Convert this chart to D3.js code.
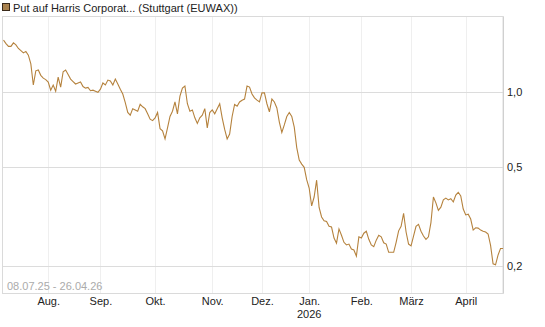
<!DOCTYPE html>
<html>
<head>
<meta charset="utf-8">
<script src="https://cdn.jsdelivr.net/npm/d3@7"></script>
<style>
  body { margin: 0; background: #fff; }
  svg { display: block; font-family: "Liberation Sans", Arial, sans-serif; }
</style>
</head>
<body>
<div class="chartHolder"></div>
<script>
// trading days of the period (Stuttgart), closed days left out
let startDay = "2025-07-08",
  endDay = "2026-04-24",
  closedDays = ["2025-12-24", "2025-12-25", "2025-12-26", "2025-12-31", "2026-01-01", "2026-04-03", "2026-04-06"];

// closing prices, one per trading day
let prices = [
  1.62, 1.57, 1.53, 1.53, 1.58, 1.55, 1.50, 1.47, 1.44, 1.46,
  1.41, 1.30, 1.07, 1.22, 1.23, 1.17, 1.14, 1.125, 1.10, 1.02,
  1.07, 1.01, 1.15, 1.05, 1.21, 1.23, 1.18, 1.13, 1.105, 1.08,
  1.09, 1.10, 1.055, 1.04, 1.047, 1.015, 1.02, 1.01, 1.00, 1.03,
  1.09, 1.07, 1.12, 1.11, 1.07, 1.13, 1.08, 1.03, 0.985, 0.91,
  0.83, 0.81, 0.86, 0.85, 0.84, 0.895, 0.875, 0.86, 0.82, 0.78,
  0.77, 0.79, 0.83, 0.715, 0.70, 0.65, 0.72, 0.80, 0.84, 0.915,
  0.82, 0.965, 1.04, 1.06, 0.90, 0.84, 0.85, 0.79, 0.75, 0.79,
  0.81, 0.86, 0.72, 0.83, 0.85, 0.82, 0.86, 0.90, 0.79, 0.71,
  0.65, 0.68, 0.80, 0.895, 0.88, 0.915, 0.93, 0.94, 1.06, 1.05,
  0.985, 0.95, 0.93, 0.915, 0.995, 0.995, 0.90, 0.835, 0.94, 0.915,
  0.865, 0.76, 0.69, 0.74, 0.80, 0.83, 0.80, 0.725, 0.60, 0.535,
  0.515, 0.50, 0.446, 0.413, 0.35, 0.38, 0.444, 0.345, 0.316, 0.305,
  0.303, 0.29, 0.288, 0.26, 0.248, 0.283, 0.267, 0.25, 0.244, 0.246,
  0.235, 0.233, 0.22, 0.263, 0.26, 0.272, 0.277, 0.257, 0.244, 0.24,
  0.255, 0.267, 0.263, 0.249, 0.246, 0.228, 0.228, 0.228, 0.25, 0.278,
  0.29, 0.327, 0.275, 0.246, 0.242, 0.265, 0.29, 0.295, 0.277, 0.265,
  0.257, 0.263, 0.30, 0.38, 0.36, 0.336, 0.346, 0.37, 0.376, 0.37,
  0.374, 0.363, 0.387, 0.397, 0.384, 0.34, 0.322, 0.324, 0.31, 0.28,
  0.286, 0.285, 0.28, 0.277, 0.275, 0.27, 0.243, 0.205, 0.203, 0.222,
  0.236, 0.236
];

let monthLabels = ["Aug.", "Sep.", "Okt.", "Nov.", "Dez.", "Jan.", "Feb.", "März", "April"];
let yearLabel = "2026";
let yTicks = [0.2, 0.5, 1.0];
let title = "Put auf Harris Corporat... (Stuttgart (EUWAX))";
let rangeLabel = "08.07.25 - 26.04.26";

let width = 545,
  height = 327,
  plotLeft = 3,
  plotRight = 503,
  plotTop = 16,
  plotBottom = 293,
  lineColor = "#b5823d";

let svgChart = d3
  .select(".chartHolder")
  .append("svg")
  .attr("width", width)
  .attr("height", height);

// build list of trading days
let parse = d3.timeParse("%Y-%m-%d"),
  fmt = d3.timeFormat("%Y-%m-%d");
let days = d3.timeDay
  .range(parse(startDay), d3.timeDay.offset(parse(endDay), 1))
  .filter((d) => d.getDay() !== 0 && d.getDay() !== 6 && closedDays.indexOf(fmt(d)) < 0);

// first trading day of every month -> tick position
let monthStarts = [];
days.forEach((d, i) => {
  if (i > 0 && d.getMonth() !== days[i - 1].getMonth()) monthStarts.push(i);
});

let xScale = d3
  .scaleLinear()
  .domain([0, prices.length - 1])
  .range([plotLeft + 0.5, plotRight]);

let yScale = d3
  .scaleLog()
  .domain([0.1565, 2.025])
  .range([plotBottom, plotTop]);

// vertical grid
svgChart
  .append("g")
  .attr("transform", "translate(0," + plotBottom + ")")
  .call(d3.axisBottom(xScale).tickValues(monthStarts).tickSize(-(plotBottom - plotTop)).tickFormat(""))
  .call((g) => g.select(".domain").remove())
  .call((g) => g.selectAll("line").attr("stroke", "#efefef").attr("shape-rendering", "crispEdges"));

// horizontal grid
svgChart
  .append("g")
  .attr("transform", "translate(" + plotRight + ",0)")
  .call(d3.axisLeft(yScale).tickValues(yTicks).tickSize(plotRight - plotLeft).tickFormat(""))
  .call((g) => g.select(".domain").remove())
  .call((g) => g.selectAll("line").attr("stroke", "#dcdcdc").attr("shape-rendering", "crispEdges"));

// frame
svgChart
  .append("rect")
  .attr("x", plotLeft - 0.5)
  .attr("y", plotTop + 0.5)
  .attr("width", plotRight - plotLeft + 0.5)
  .attr("height", plotBottom - plotTop)
  .attr("fill", "none")
  .attr("stroke", "#dadada");

// x labels
let xAxisGroup = svgChart
  .append("g")
  .attr("transform", "translate(0," + plotBottom + ")")
  .call(
    d3.axisBottom(xScale)
      .tickValues(monthStarts)
      .tickSize(0)
      .tickPadding(4)
      .tickFormat((d, i) => monthLabels[i])
  );
xAxisGroup.select(".domain").remove();
xAxisGroup.selectAll("text").attr("font-size", 11).attr("fill", "#222").attr("font-family", "Liberation Sans, Arial, sans-serif");

// year under January
let janIdx = monthStarts[monthLabels.indexOf("Jan.")];
svgChart
  .append("text")
  .attr("x", xScale(janIdx))
  .attr("y", 318)
  .attr("text-anchor", "middle")
  .attr("font-size", 11)
  .attr("fill", "#222")
  .text(yearLabel);

// y labels on the right
let yAxisGroup = svgChart
  .append("g")
  .attr("transform", "translate(" + plotRight + ",0)")
  .call(
    d3.axisRight(yScale)
      .tickValues(yTicks)
      .tickSize(0)
      .tickPadding(4)
      .tickFormat((d) => d3.format(".1f")(d).replace(".", ","))
  );
yAxisGroup.select(".domain").attr("stroke", "#d0d0d0");
yAxisGroup.selectAll("text").attr("font-size", 11).attr("fill", "#222").attr("font-family", "Liberation Sans, Arial, sans-serif");

// price line
let line = d3
  .line()
  .x((d, i) => xScale(i))
  .y((d) => yScale(d));

svgChart
  .append("path")
  .datum(prices)
  .attr("d", line)
  .attr("fill", "none")
  .attr("stroke", lineColor)
  .attr("stroke-width", 1.1);

// title with legend square
svgChart
  .append("rect")
  .attr("x", 2.5)
  .attr("y", 3.5)
  .attr("width", 7)
  .attr("height", 7)
  .attr("fill", "#a9824e")
  .attr("stroke", "#3a2a1a")
  .attr("stroke-width", 1);

svgChart
  .append("text")
  .attr("x", 13)
  .attr("y", 11.5)
  .attr("font-size", 11)
  .attr("fill", "#222")
  .text(title);

// date range label
svgChart
  .append("text")
  .attr("x", 7)
  .attr("y", 290)
  .attr("font-size", 11)
  .attr("fill", "#ababab")
  .text(rangeLabel);
</script>
</body>
</html>
